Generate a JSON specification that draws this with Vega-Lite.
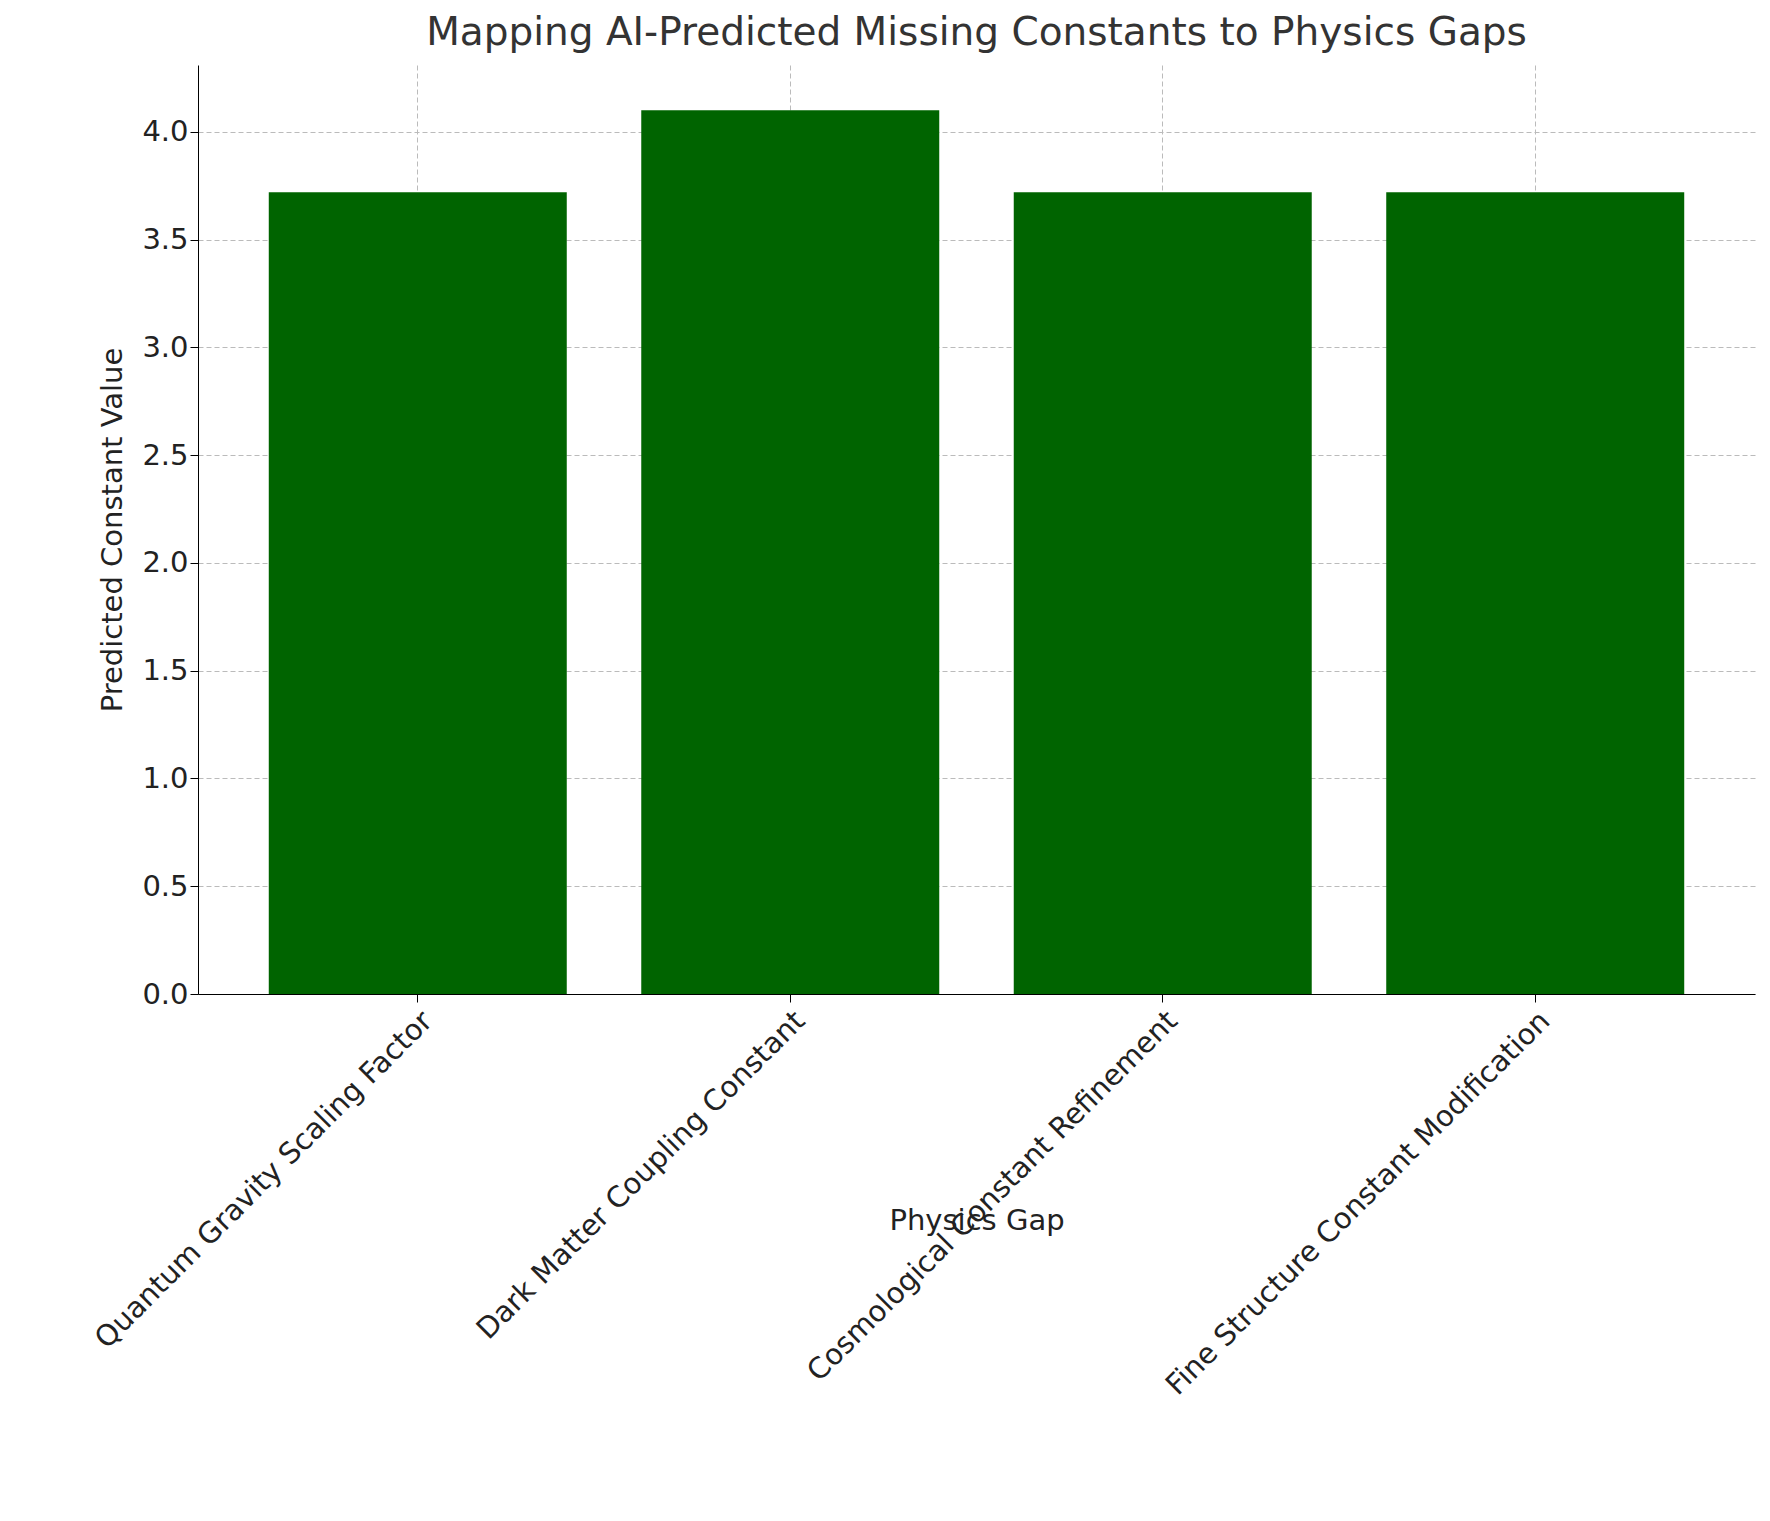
{
  "$schema": "https://vega.github.io/schema/vega-lite/v6.json",
  "width": 1557,
  "height": 929,
  "padding": {"left": 90, "top": 14, "right": 10, "bottom": 10},
  "background": "white",
  "title": {"text": "Mapping AI-Predicted Missing Constants to Physics Gaps", "fontSize": 39, "fontWeight": "normal", "color": "#333333", "font": "DejaVu Sans", "offset": 12},
  "data": {"values": [
    {"gap": "Quantum Gravity Scaling Factor", "value": 3.72},
    {"gap": "Dark Matter Coupling Constant", "value": 4.1},
    {"gap": "Cosmological Constant Refinement", "value": 3.72},
    {"gap": "Fine Structure Constant Modification", "value": 3.72}
  ]},
  "mark": {"type": "bar", "color": "#006400"},
  "encoding": {
    "x": {"field": "gap", "type": "nominal", "sort": null, "title": "Physics Gap",
      "scale": {"paddingInner": 0.2, "paddingOuter": 0.19},
      "axis": {"labelAngle": -45, "labelAlign": "right", "labelBaseline": "top", "labelLimit": 0, "labelFontSize": 29, "titleFontSize": 29, "titleFontWeight": "normal", "labelFont": "DejaVu Sans", "titleFont": "DejaVu Sans", "labelColor": "#222", "titleColor": "#222", "grid": true, "gridDash": [5, 3], "gridColor": "#bbbbbb", "domainColor": "#000", "tickColor": "#000", "tickSize": 8, "labelPadding": 4, "titlePadding": 12}},
    "y": {"field": "value", "type": "quantitative", "title": "Predicted Constant Value",
      "scale": {"domain": [0, 4.31], "nice": false},
      "axis": {"values": [0, 0.5, 1, 1.5, 2, 2.5, 3, 3.5, 4], "format": ".1f", "labelFontSize": 29, "titleFontSize": 29, "titleFontWeight": "normal", "labelFont": "DejaVu Sans", "titleFont": "DejaVu Sans", "labelColor": "#222", "titleColor": "#222", "gridDash": [5, 3], "gridColor": "#bbbbbb", "domainColor": "#000", "tickColor": "#000", "tickSize": 8, "titlePadding": 14}}
  },
  "config": {"view": {"stroke": null}, "axis": {"gridWidth": 1}}
}
